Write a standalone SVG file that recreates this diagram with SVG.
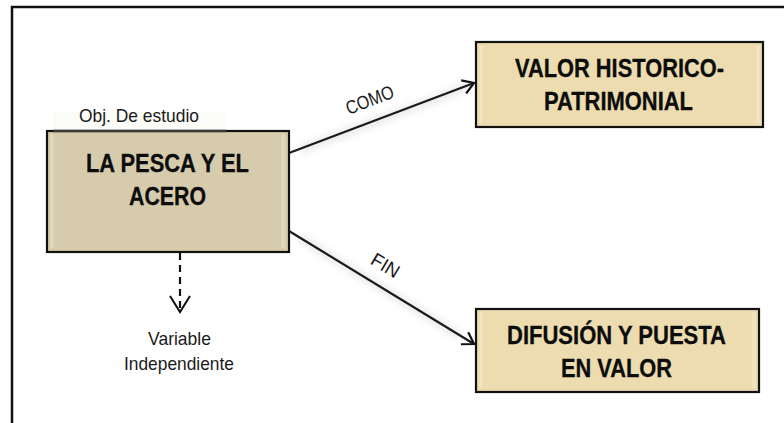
<svg xmlns="http://www.w3.org/2000/svg" width="784" height="423" viewBox="0 0 784 423">
<style>
.box{stroke:#111;stroke-width:2.2}
.t{font-family:"Liberation Sans",Arial,sans-serif;font-weight:bold;font-size:25px;fill:#0d0d0d;text-anchor:middle;stroke:#0d0d0d;stroke-width:0.3}
.s{font-family:"Liberation Sans",Arial,sans-serif;font-size:19px;fill:#1a1a1a;text-anchor:middle}
.c{stroke:#1a1a1a;stroke-width:2.2;fill:none}
.glow{stroke:#c8c8c8;stroke-width:9;fill:none;opacity:0.35}
.stripe{fill:none;stroke:#fff;stroke-opacity:0.25;stroke-width:3}
</style>
<defs>
<marker id="open" markerWidth="14" markerHeight="16" refX="12" refY="8" orient="auto" markerUnits="userSpaceOnUse">
<path d="M1,1 L12,8 L1,15" fill="none" stroke="#111" stroke-width="2.2"/>
</marker>
<filter id="blur" x="-10%" y="-50%" width="120%" height="200%"><feGaussianBlur stdDeviation="3"/></filter>
</defs>
<rect x="12" y="7" width="790" height="430" fill="#fff" stroke="#111" stroke-width="2.5"/>
<g id="connectors">
<line class="glow" x1="300" y1="150" x2="470" y2="86" filter="url(#blur)"/>
<line class="glow" x1="300" y1="238" x2="460" y2="336" filter="url(#blur)"/>
<line class="c" x1="289" y1="153" x2="474" y2="83" marker-end="url(#open)"/>
<line class="c" x1="289" y1="231" x2="474" y2="344" marker-end="url(#open)"/>
<line x1="180" y1="253" x2="180" y2="311" stroke="#111" stroke-width="2.2" stroke-dasharray="7,5" fill="none"/>
<path d="M170,296 L180,312 L190,296" fill="none" stroke="#111" stroke-width="2"/>
<text class="s" font-size="18" transform="translate(372,106) rotate(-21)" textLength="50" lengthAdjust="spacingAndGlyphs">COMO</text>
<text class="s" font-size="18" transform="translate(382,271) rotate(31)" textLength="30" lengthAdjust="spacingAndGlyphs">FIN</text>
</g>
<g id="obj">
<rect x="53" y="112" width="173" height="19" fill="#fbfbf8"/>
<text class="s" x="139" y="122" textLength="120" lengthAdjust="spacingAndGlyphs">Obj. De estudio</text>
<rect class="box" x="47" y="131" width="242" height="121" fill="#d6ccad"/>
<line x1="53" y1="131" x2="226" y2="131" stroke="#3a3a36" stroke-width="2.5"/>
<line class="stripe" x1="52" y1="134" x2="52" y2="248"/>
<line class="stripe" x1="283" y1="134" x2="283" y2="248"/>
<text class="t" x="167.5" y="172" textLength="163" lengthAdjust="spacingAndGlyphs">LA PESCA Y EL</text>
<text class="t" x="167.5" y="205" textLength="77" lengthAdjust="spacingAndGlyphs">ACERO</text>
</g>
<g id="valor">
<rect class="box" x="476" y="42" width="287" height="85" fill="#ecdcb0"/>
<line class="stripe" x1="481" y1="46" x2="481" y2="123"/>
<line class="stripe" x1="758" y1="46" x2="758" y2="123"/>
<text class="t" x="619.5" y="77" textLength="209" lengthAdjust="spacingAndGlyphs">VALOR HISTORICO-</text>
<text class="t" x="618.5" y="110" textLength="149" lengthAdjust="spacingAndGlyphs">PATRIMONIAL</text>
</g>
<g id="difusion">
<rect class="box" x="476" y="309" width="283" height="83" fill="#ecdcb0"/>
<line class="stripe" x1="481" y1="313" x2="481" y2="388"/>
<line class="stripe" x1="754" y1="313" x2="754" y2="388"/>
<text class="t" x="616.5" y="344" textLength="219" lengthAdjust="spacingAndGlyphs">DIFUSIÓN Y PUESTA</text>
<text class="t" x="616.5" y="377" textLength="111" lengthAdjust="spacingAndGlyphs">EN VALOR</text>
</g>
<g id="variable">
<text class="s" x="179.5" y="345" textLength="63" lengthAdjust="spacingAndGlyphs">Variable</text>
<text class="s" x="179" y="370" textLength="110" lengthAdjust="spacingAndGlyphs">Independiente</text>
</g>
</svg>
